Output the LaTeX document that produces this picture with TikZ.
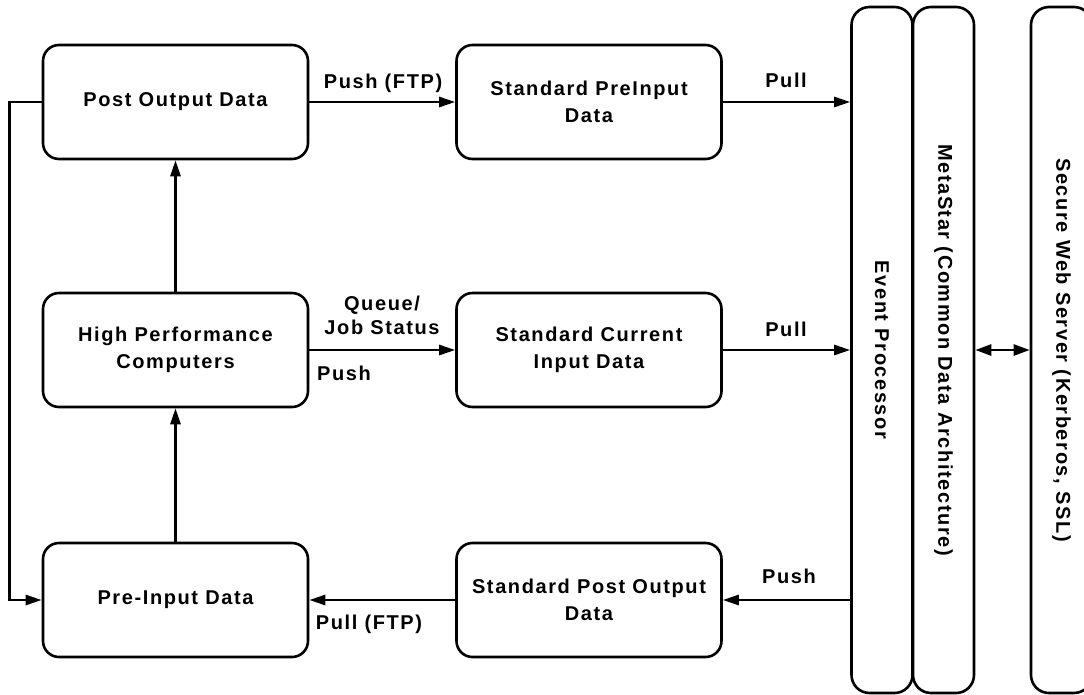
\documentclass[tikz,border=0pt]{standalone}
\usepackage{fontspec}
\setmainfont{Liberation Sans}[LetterSpace=8]
\usetikzlibrary{arrows.meta}

\begin{document}
\begin{tikzpicture}[x=1pt,y=-1pt,
  every node/.style={font=\fontsize{20}{27}\selectfont\bfseries},
  block/.style={draw, line width=2.6pt, rounded corners=16pt,
    minimum width=265pt, minimum height=114pt, align=center, inner sep=0pt},
  bar/.style={draw, line width=2.6pt, rounded corners=18pt, rotate=-90,
    minimum width=686pt, minimum height=61pt, inner sep=0pt},
  lbl/.style={inner sep=0pt, anchor=base},
  arr/.style={line width=2.6pt, -{Triangle[length=16pt,width=10pt]}},
  dbl/.style={line width=2.6pt, {Triangle[length=16pt,width=11pt]}-{Triangle[length=16pt,width=11pt]}}
]
\useasboundingbox (0,0) rectangle (1084,694);

% processing boxes
\node[block] (pod) at (175.5,102) {Post Output Data};
\node[block] (hpc) at (175.5,350) {High Performance\\Computers};
\node[block] (pre) at (175.5,600) {Pre-Input Data};
\node[block] (spi) at (589,102) {Standard PreInput\\Data};
\node[block] (sci) at (589,350) {Standard Current\\Input Data};
\node[block] (spo) at (589,600) {Standard Post Output\\Data};

% vertical service bars, each with its title running down the middle
\node[bar] (ep) at (882,350) {Event Processor};
\node[bar] (ms) at (943.5,350) {MetaStar (Common Data Architecture)};
\node[bar] (sws) at (1061.5,350) {Secure Web Server (Kerberos, SSL)};

% top row
\draw[arr] (pod.east) -- (spi.west);
\draw[arr] (spi.east) -- (spi.east -| ep.south);
\node[lbl] (l1) at (383,88) {Push (FTP)};
\node[lbl] (l2) at (786,87) {Pull};

% middle row
\draw[arr] (hpc.east) -- (sci.west);
\draw[arr] (sci.east) -- (sci.east -| ep.south);
\node[lbl] (l3) at (382,310) {Queue/};
\node[lbl] (l4) at (382,334) {Job Status};
\node[lbl, anchor=base west] (l5) at (317,380) {Push};
\node[lbl] (l6) at (786,336) {Pull};

% bottom row
\draw[arr] (spo.east -| ep.south) -- (spo.east);
\draw[arr] (spo.west) -- (pre.west -| pre.east);
\node[lbl] (l7) at (789,583) {Push};
\node[lbl] (l8) at (369,629) {Pull (FTP)};

% vertical links on the left
\draw[arr] (hpc.north) -- (pod.south);
\draw[arr] (pre.north) -- (hpc.south);
\draw[arr] (pod.west) -- ++(-32,0) |- (pre.west);

% link between MetaStar and the web server
\draw[dbl] (ms.north) -- (sws.south);
\end{tikzpicture}
\end{document}
